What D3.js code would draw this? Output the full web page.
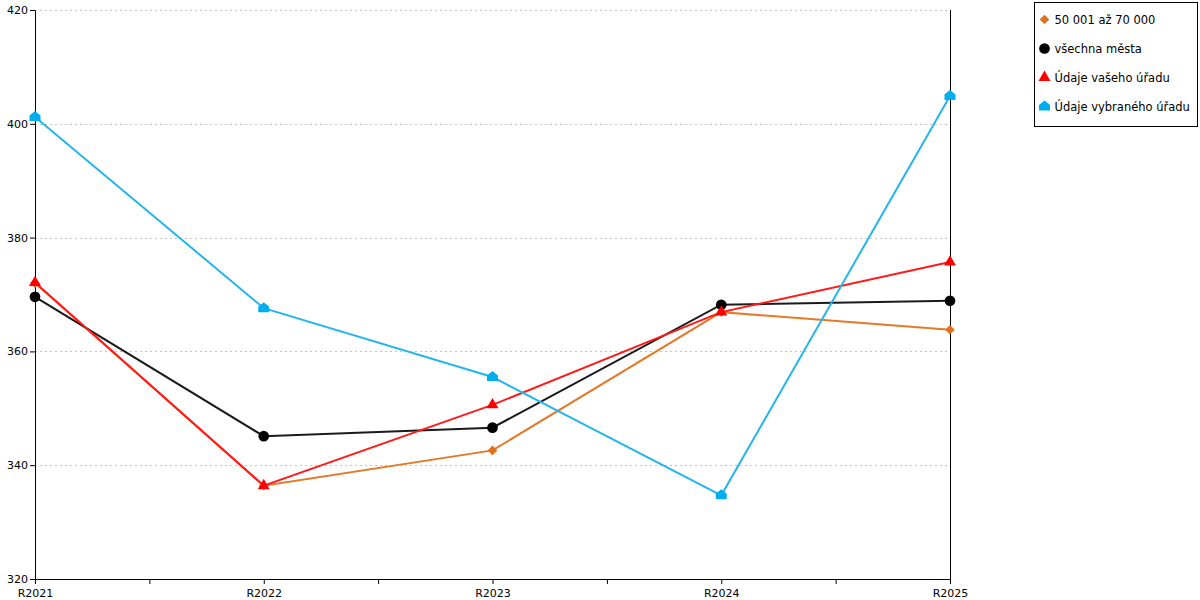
<!DOCTYPE html>
<html>
<head>
<meta charset="utf-8">
<script src="https://cdn.jsdelivr.net/npm/d3@7"></script>
<style>
  body { margin: 0; background: #fff; }
  svg { display: block; font-family: 'DejaVu Sans', Verdana, sans-serif; }
</style>
</head>
<body>
<svg id="chart" width="1200" height="600"></svg>
<script>
// data
const years = ['R2021', 'R2022', 'R2023', 'R2024', 'R2025']
const yTicks = [320, 340, 360, 380, 400, 420]

const size50to70 = [372.0, 336.4, 342.6, 366.9, 363.8]
const allCities = [369.6, 345.1, 346.6, 368.2, 368.9]
const yourOffice = [372.1, 336.4, 350.6, 366.9, 375.7]
const chosenOffice = [401.2, 367.6, 355.5, 334.7, 404.9]

const seriesNames = ['50 001 až 70 000', 'všechna města', 'Údaje vašeho úřadu', 'Údaje vybraného úřadu']

const width = 1200
const height = 600
const margin = { top: 10, right: 250, bottom: 21, left: 35 }

// marker shapes
const house = 'M0,-6L5.5,-1.5L5.5,4L-5.5,4L-5.5,-1.5Z'
const series = [
  { name: seriesNames[0], values: size50to70, line: '#e27a2a', fill: '#e0701c', shape: d3.symbol(d3.symbolSquare, 46)(), rotate: 45 },
  { name: seriesNames[1], values: allCities, line: '#1a1a1a', fill: '#000000', shape: d3.symbol(d3.symbolCircle, 90)(), rotate: 0 },
  { name: seriesNames[2], values: yourOffice, line: '#ff1a1a', fill: '#ff0000', shape: d3.symbol(d3.symbolTriangle, 62)(), rotate: 0 },
  { name: seriesNames[3], values: chosenOffice, line: '#25b5ec', fill: '#00aeef', shape: house, rotate: 0 },
]

const svg = d3.select('#chart')

const x = d3.scaleLinear()
  .domain([0, years.length - 1])
  .range([margin.left, width - margin.right])

const y = d3.scaleLinear()
  .domain([320, 420])
  .range([height - margin.bottom, margin.top])

// grid lines
svg.append('g')
  .attr('id', 'grid')
  .selectAll('line')
  .data(yTicks.slice(1))
  .join('line')
  .attr('x1', x(0))
  .attr('x2', x(years.length - 1))
  .attr('y1', (d) => Math.round(y(d)) + 0.5)
  .attr('y2', (d) => Math.round(y(d)) + 0.5)
  .attr('stroke', '#c4c4c4')
  .attr('stroke-dasharray', '2,3')

// right border line
svg.append('line')
  .attr('x1', x(years.length - 1) + 0.5)
  .attr('x2', x(years.length - 1) + 0.5)
  .attr('y1', y(420))
  .attr('y2', y(320))
  .attr('stroke', '#000')

// x axis, ticks every half category
const halfSteps = d3.range(0, years.length - 0.5, 0.5)
svg.append('g')
  .attr('id', 'xAxis')
  .attr('transform', `translate(0,${y(320)})`)
  .call(
    d3.axisBottom(x)
      .tickValues(halfSteps)
      .tickSize(5)
      .tickSizeOuter(0)
      .tickFormat((d) => (Number.isInteger(d) ? years[d] : ''))
  )
  .call((g) => g.selectAll('text').attr('font-size', 11).attr('fill', '#000').attr('dy', '0.9em').attr('font-family', 'DejaVu Sans'))

// y axis
svg.append('g')
  .attr('id', 'yAxis')
  .attr('transform', `translate(${x(0)},0)`)
  .call(d3.axisLeft(y).tickValues(yTicks).tickSize(5).tickSizeOuter(0))
  .call((g) => g.selectAll('text').attr('font-size', 11).attr('fill', '#000').attr('x', -7).attr('font-family', 'DejaVu Sans'))

const line = d3.line()
  .x((d, i) => x(i))
  .y((d) => y(d))

// lines and markers
const groups = svg.append('g')
  .attr('id', 'viz')
  .selectAll('g')
  .data(series)
  .join('g')

groups.append('path')
  .attr('d', (d) => line(d.values))
  .attr('fill', 'none')
  .attr('stroke', (d) => d.line)
  .attr('stroke-width', 2)

groups.each(function (s) {
  d3.select(this)
    .selectAll('path.marker')
    .data(s.values)
    .join('path')
    .attr('class', 'marker')
    .attr('d', s.shape)
    .attr('fill', s.fill)
    .attr('transform', (d, i) => `translate(${x(i)},${y(d)}) rotate(${s.rotate})`)
})

// legend
const legend = svg.append('g')
  .attr('id', 'legend')
  .attr('transform', 'translate(1034.5,2.5)')

legend.append('rect')
  .attr('width', 163)
  .attr('height', 124)
  .attr('fill', '#fff')
  .attr('stroke', '#000')

const items = legend.selectAll('g')
  .data(series)
  .join('g')
  .attr('transform', (d, i) => `translate(0,${17 + i * 29})`)

items.append('path')
  .attr('d', (d) => d.shape)
  .attr('fill', (d) => d.fill)
  .attr('transform', (d) => `translate(10,0) rotate(${d.rotate})`)

items.append('text')
  .attr('x', 20)
  .attr('dy', '0.35em')
  .attr('font-size', 11.5)
  .attr('fill', '#000')
  .text((d) => d.name)
</script>
</body>
</html>
